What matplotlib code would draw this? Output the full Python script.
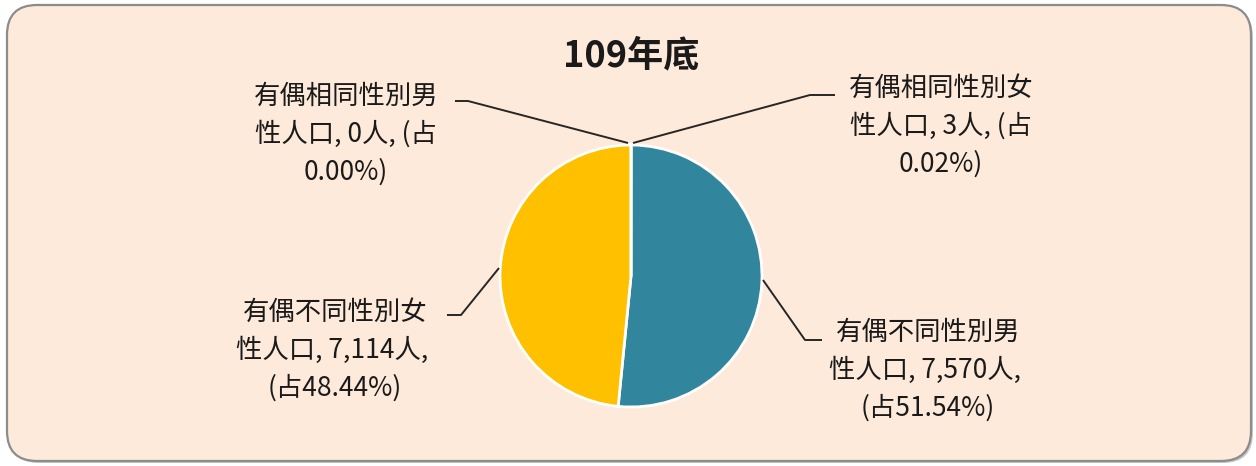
import matplotlib
matplotlib.use("Agg")
import matplotlib.pyplot as plt
from matplotlib.patches import FancyBboxPatch

plt.rcParams['font.family'] = ['Noto Sans CJK TC', 'DejaVu Sans']

# ---- data ----
categories = ['有偶相同性別女性人口', '有偶不同性別男性人口', '有偶不同性別女性人口', '有偶相同性別男性人口']
counts = [3, 7570, 7114, 0]
count_labels = ['3', '7,570', '7,114', '0']
shares = ['0.02%', '51.54%', '48.44%', '0.00%']
colors = ['#7F7F7F', '#31859C', '#FFC000', '#C0504D']
title = '109年底'

W, H = 1256, 466
fig = plt.figure(figsize=(W / 100, H / 100), dpi=100)
ax = fig.add_axes([0, 0, 1, 1])
ax.set_xlim(0, W)
ax.set_ylim(0, H)
ax.set_aspect('equal')
ax.axis('off')

def Y(y):
    return H - y

# background rounded box
shadow = FancyBboxPatch((9, Y(463)), 1244, 456, boxstyle="round,pad=0,rounding_size=30",
                        facecolor='#C8C8C8', edgecolor='none', zorder=0)
ax.add_patch(shadow)
box = FancyBboxPatch((7, Y(461)), 1244, 456, boxstyle="round,pad=0,rounding_size=30",
                     facecolor='#FDEADA', edgecolor='#8C8C8C', linewidth=1.6, zorder=1)
ax.add_patch(box)

# pie
ax.pie(counts, colors=colors, startangle=90, counterclock=False,
       center=(631, Y(276)), radius=131, frame=True,
       wedgeprops=dict(edgecolor='white', linewidth=2, zorder=3))
ax.set_xlim(0, W)
ax.set_ylim(0, H)
ax.axis('off')

ax.text(631, Y(56), title, ha='center', va='center', fontsize=26,
        fontweight='bold', color='#1a1a1a', zorder=5)

def label_text(i, split):
    name = categories[i]
    return f"{name[:7]}\n{name[7:]}, {count_labels[i]}人, {split}{shares[i]})"

txt_font = dict(fontsize=19, color='#1a1a1a', ha='center', va='center',
                multialignment='center', linespacing=1.5, zorder=5)

# label texts
ax.text(346, Y(134), label_text(3, '(占\n'), **txt_font)
ax.text(941, Y(126), label_text(0, '(占\n'), **txt_font)
ax.text(335, Y(350), label_text(2, '\n(占'), **txt_font)
ax.text(928, Y(370), label_text(1, '\n(占'), **txt_font)

# leader lines
lines = [
    [(455, 101), (468, 101), (628, 143)],
    [(633, 143), (810, 95), (835, 95)],
    [(447, 315), (461, 315), (499, 268)],
    [(763, 280), (805, 340), (822, 340)],
]
for pts in lines:
    xs = [p[0] for p in pts]
    ys = [Y(p[1]) for p in pts]
    ax.plot(xs, ys, color='#262626', linewidth=1.4, zorder=4, solid_capstyle='butt')

fig.savefig('out.png', dpi=100)
